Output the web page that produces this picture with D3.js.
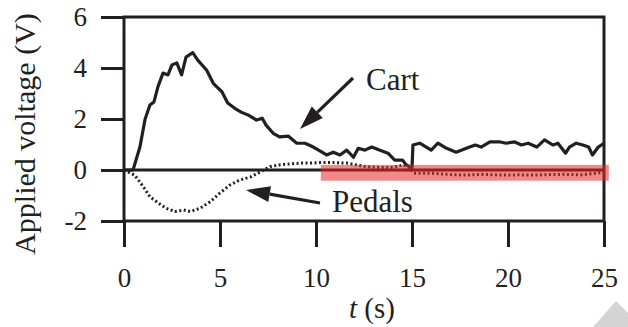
<!DOCTYPE html>
<html>
<head>
<meta charset="utf-8">
<script src="https://cdn.jsdelivr.net/npm/d3@7"></script>
<style>
  body { margin: 0; background: #fff; }
</style>
</head>
<body>
<script>
// data
var cartT = [0, 0.47, 0.83, 1.1, 1.35, 1.56, 1.77, 2.03, 2.29, 2.5, 2.75, 3.0, 3.23, 3.58, 3.85, 4.3, 4.65, 4.82, 5.1, 5.4, 5.77, 6.1, 6.46, 6.9, 7.2, 7.4, 7.77, 8.1, 8.55, 9.0, 9.43, 9.86, 10.2, 10.55, 10.9, 11.25, 11.6, 11.95, 12.2, 12.55, 12.9, 13.3, 13.75, 14.1, 14.5, 14.7, 15.0, 15.05, 15.4, 16.0, 16.35, 16.8, 17.3, 17.6, 18.0, 18.3, 18.6, 19.06, 19.6, 19.9, 20.35, 20.7, 21.05, 21.5, 21.9, 22.35, 22.6, 23.0, 23.2, 23.55, 23.9, 24.2, 24.4, 24.7, 25];
var cartV = [0, 0, 0.9, 2.0, 2.55, 2.67, 3.27, 3.8, 3.73, 4.12, 4.2, 3.73, 4.43, 4.6, 4.3, 3.92, 3.4, 3.27, 3.07, 2.63, 2.42, 2.27, 2.16, 1.96, 2.03, 1.76, 1.44, 1.3, 1.33, 1.05, 1.05, 0.9, 0.75, 0.59, 0.7, 0.59, 0.78, 0.5, 0.85, 0.78, 0.9, 0.78, 0.66, 0.39, 0.39, 0.2, 0.08, 0.98, 1.05, 0.78, 1.05, 0.85, 0.7, 0.78, 0.9, 0.98, 0.9, 1.1, 1.1, 1.05, 1.1, 0.98, 1.05, 0.9, 1.18, 0.98, 1.05, 0.66, 0.9, 1.05, 0.98, 0.9, 0.59, 0.9, 1.05];

var pedalT = [0, 0.55, 1.0, 1.35, 1.8, 2.2, 2.65, 3.1, 3.45, 3.96, 4.5, 5.0, 5.5, 6.0, 6.6, 7.1, 7.6, 8.1, 8.65, 9.2, 9.7, 10.2, 10.9, 11.6, 12.1, 12.6, 13.3, 14.0, 14.55, 14.9, 15.1, 16.1, 17.0, 17.8, 18.7, 19.6, 20.5, 21.4, 22.2, 22.9, 23.8, 24.6, 25];
var pedalV = [0, -0.2, -0.65, -1.05, -1.3, -1.5, -1.63, -1.57, -1.63, -1.5, -1.24, -0.9, -0.6, -0.4, -0.27, -0.07, 0.13, 0.2, 0.24, 0.27, 0.27, 0.29, 0.29, 0.27, 0.2, 0.13, 0.1, 0.1, 0.2, 0.07, -0.13, -0.13, -0.18, -0.2, -0.17, -0.2, -0.19, -0.2, -0.18, -0.17, -0.19, -0.13, -0.07];

var xTicks = [0, 5, 10, 15, 20, 25];
var yTicks = [-2, 0, 2, 4, 6];
var highlightT = [10.25, 25.25];
var highlightV = [0.2, -0.42];

var serif = '"Liberation Serif", "DejaVu Serif", "Times New Roman", Times, serif';
var ink = '#231f20';

var svg = d3.select("body")
    .append("svg")
    .attr("width", 628)
    .attr("height", 327)
    .attr('font-family', serif)
    .style('display', 'block');

var x = d3.scaleLinear().domain([0, 25]).range([124, 604]);
var y = d3.scaleLinear().domain([-2, 6]).range([221, 17]);

//axes
var yAxis = svg.append('g')
    .attr('transform', 'translate(' + x(0) + ',0)')
    .call(d3.axisLeft(y).tickValues(yTicks).tickSize(23).tickPadding(14));
var xAxis = svg.append('g')
    .attr('transform', 'translate(0,' + y(-2) + ')')
    .call(d3.axisBottom(x).tickValues(xTicks).tickSize(26).tickPadding(21));

[xAxis, yAxis].forEach(function (a) {
    a.attr('font-family', serif).attr('font-size', 27);
    a.select('.domain').remove();
    a.selectAll('line').attr('stroke', ink).attr('stroke-width', 3);
    a.selectAll('text').attr('fill', ink);
});
yAxis.selectAll('text').text(function (d) { return d < 0 ? '-' + Math.abs(d) : d; });

//frame and zero line
svg.append('rect')
    .attr('x', x(0)).attr('y', y(6))
    .attr('width', x(25) - x(0)).attr('height', y(-2) - y(6))
    .attr('fill', 'none').attr('stroke', ink).attr('stroke-width', 3);
svg.append('line')
    .attr('x1', x(0)).attr('x2', x(25))
    .attr('y1', y(0)).attr('y2', y(0))
    .attr('stroke', ink).attr('stroke-width', 3);

//series
var line = d3.line()
    .x(function (d) { return x(d[0]); })
    .y(function (d) { return y(d[1]); });

svg.append('path')
    .attr('d', line(d3.zip(pedalT, pedalV)))
    .attr('fill', 'none')
    .attr('stroke', ink)
    .attr('stroke-width', 3)
    .attr('stroke-dasharray', '2,2.5');

svg.append('path')
    .attr('d', line(d3.zip(cartT, cartV)))
    .attr('fill', 'none')
    .attr('stroke', ink)
    .attr('stroke-width', 3.2)
    .attr('stroke-linejoin', 'round');

//arrows
function arrow(x1, y1, x2, y2) {
    var ang = Math.atan2(y2 - y1, x2 - x1);
    var len = 24, half = 8;
    var bx = x2 - len * Math.cos(ang), by = y2 - len * Math.sin(ang);
    svg.append('line')
        .attr('x1', x1).attr('y1', y1).attr('x2', bx).attr('y2', by)
        .attr('stroke', ink).attr('stroke-width', 3.2);
    svg.append('path')
        .attr('d', 'M' + x2 + ',' + y2 +
            'L' + (bx + half * Math.sin(ang)) + ',' + (by - half * Math.cos(ang)) +
            'L' + (bx - half * Math.sin(ang)) + ',' + (by + half * Math.cos(ang)) + 'Z')
        .attr('fill', ink);
}
arrow(353, 78, 300, 129);
arrow(320, 203, 246, 190);

svg.append('text')
    .attr('x', 366).attr('y', 90)
    .attr('fill', ink)
    .attr('font-size', 31)
    .text('Cart');
svg.append('text')
    .attr('x', 332).attr('y', 212)
    .attr('fill', ink)
    .attr('font-size', 31)
    .text('Pedals');

//axis titles
svg.append('text')
    .attr('transform', 'translate(35,134) rotate(-90)')
    .attr('text-anchor', 'middle')
    .attr('fill', ink)
    .attr('font-size', 30)
    .text('Applied voltage (V)');

var xt = svg.append('text')
    .attr('x', 372).attr('y', 318)
    .attr('text-anchor', 'middle')
    .attr('fill', ink)
    .attr('font-size', 29);
xt.append('tspan').attr('font-style', 'italic').text('t');
xt.append('tspan').text(' (s)');

//red highlight band
svg.append('rect')
    .attr('x', x(highlightT[0])).attr('y', y(highlightV[0]))
    .attr('width', x(highlightT[1]) - x(highlightT[0]))
    .attr('height', y(highlightV[1]) - y(highlightV[0]))
    .attr('fill', '#e8262a')
    .attr('opacity', 0.55);

//grey corner mark
svg.append('path')
    .attr('d', 'M593,327L616,301L628,313L628,327Z')
    .attr('fill', '#d4d4d4');
</script>
</body>
</html>
